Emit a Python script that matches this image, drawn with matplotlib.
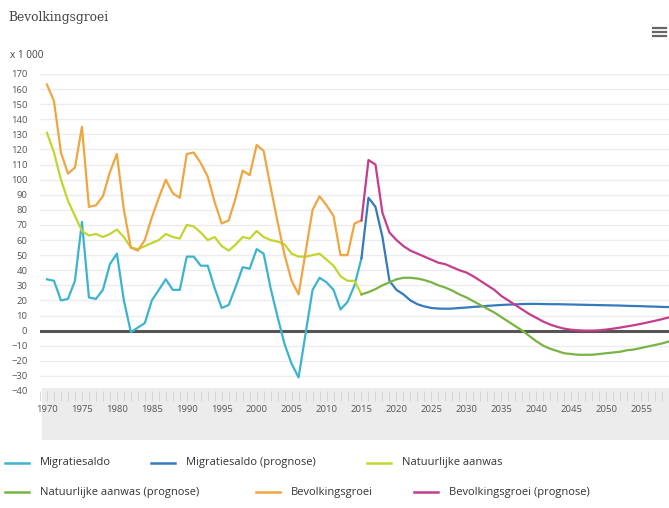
import matplotlib
matplotlib.use("Agg")
import matplotlib.pyplot as plt
from matplotlib.patches import Rectangle
from matplotlib.lines import Line2D
import numpy as np

# ---------------- data (x 1 000) ----------------
years_hist = list(range(1970, 2016))
migratiesaldo = [34, 33, 20, 21, 33, 72, 22, 21, 27, 44,
                 51, 20, -1, 2, 5, 20, 27, 34, 27, 27,
                 49, 49, 43, 43, 28, 15, 17, 29, 42, 41,
                 54, 51, 28, 9, -9, -22, -31, -2, 27, 35,
                 32, 27, 14, 19, 30, 48]
natuurlijke_aanwas = [131, 118, 100, 86, 76, 66, 63, 64, 62, 64,
                      67, 62, 55, 54, 56, 58, 60, 64, 62, 61,
                      70, 69, 65, 60, 62, 56, 53, 57, 62, 61,
                      66, 62, 60, 59, 57, 51, 49, 49, 50, 51,
                      47, 43, 36, 33, 33, 24]
bevolkingsgroei = [163, 152, 118, 104, 108, 135, 82, 83, 89, 105,
                   117, 80, 55, 53, 60, 75, 88, 100, 91, 88,
                   117, 118, 111, 102, 85, 71, 73, 88, 106, 103,
                   123, 119, 95, 72, 50, 33, 24, 52, 80, 89,
                   83, 76, 50, 50, 71, 73]

years_prog = list(range(2015, 2061))
migratiesaldo_prog = [48, 88, 82, 62, 33, 27, 24, 20, 17.5, 16,
                      15, 14.6, 14.5, 14.6, 15, 15.3, 15.7, 16, 16.4, 16.7,
                      17, 17.2, 17.4, 17.6, 17.7, 17.7, 17.6, 17.5, 17.5, 17.4,
                      17.3, 17.2, 17.1, 17.0, 16.9, 16.8, 16.7, 16.6, 16.4, 16.3,
                      16.2, 16.0, 15.9, 15.7, 15.6, 15.5]
natuurlijke_aanwas_prog = [24, 25.5, 27.5, 30, 32, 34, 35, 35, 34.5, 33.5,
                           32, 30, 28.5, 26.5, 24, 22, 19.5, 17, 14.5, 12,
                           9, 6, 3, 0, -3.5, -7, -10, -12, -13.5, -15,
                           -15.5, -16, -16, -16, -15.5, -15, -14.5, -14, -13, -12.5,
                           -11.5, -10.5, -9.5, -8.5, -7.2, -6]
bevolkingsgroei_prog = [73, 113, 110, 78, 65, 60, 56, 53, 51, 49,
                        47, 45, 44, 42, 40, 38.5, 36, 33, 30, 27,
                        23, 20, 17, 14, 11, 8.5, 6, 4, 2.5, 1.3,
                        0.6, 0.2, 0, 0, 0.2, 0.7, 1.3, 2, 2.8, 3.6,
                        4.5, 5.5, 6.5, 7.6, 8.8, 10]

series_names = ["Migratiesaldo", "Migratiesaldo (prognose)", "Natuurlijke aanwas",
                "Natuurlijke aanwas (prognose)", "Bevolkingsgroei", "Bevolkingsgroei (prognose)"]
series_colors = ["#3cb4cf", "#3579bf", "#c2d530", "#78b443", "#f0a640", "#c53d8c"]

# ---------------- figure ----------------
W, H = 669, 508
fig = plt.figure(figsize=(W / 100, H / 100), dpi=100)
fig.patch.set_facecolor("white")

def fx(px):
    return px / W

def fy(py):
    return 1 - py / H

# gray band under the x-axis
fig.patches.append(Rectangle((fx(42), fy(440)), fx(669) - fx(42), fy(388) - fy(440),
                             transform=fig.transFigure, facecolor="#ececec",
                             edgecolor="none", zorder=-10))

ax_left, ax_right, ax_top, ax_bottom = 40, 669, 74, 391
ax = fig.add_axes([fx(ax_left), fy(ax_bottom), fx(ax_right) - fx(ax_left), fy(ax_top) - fy(ax_bottom)])
ax.set_facecolor("none")
ax.set_zorder(1)

ax.set_xlim(1970 - 6 / 7.0, 1970 + (669 - 46) / 7.0)
ax.set_ylim(-40, 170)

ax.set_yticks(np.arange(-40, 171, 10))
ax.set_xticks(np.arange(1970, 2060, 5))
ax.set_xticks(np.arange(1969, 2060, 1), minor=True)
ax.grid(axis="y", color="#ececec", linewidth=1.0, zorder=0)
for s in ax.spines.values():
    s.set_visible(False)

ax.tick_params(axis="y", length=0, pad=9, labelsize=6.8, labelcolor="#555555")
ax.tick_params(axis="x", which="both", length=7, width=0.6, color="#d2d2d2",
               direction="out", pad=3, labelsize=6.8, labelcolor="#555555")
for lab in ax.get_xticklabels() + ax.get_yticklabels():
    lab.set_family("Open Sans")

ax.axhline(0, color="#555555", linewidth=2.2, zorder=2)

lw = 1.6
ax.plot(years_hist, migratiesaldo, color=series_colors[0], lw=lw, zorder=3)
ax.plot(years_prog, migratiesaldo_prog, color=series_colors[1], lw=lw, zorder=3)
ax.plot(years_hist, natuurlijke_aanwas, color=series_colors[2], lw=lw, zorder=3)
ax.plot(years_prog, natuurlijke_aanwas_prog, color=series_colors[3], lw=lw, zorder=3)
ax.plot(years_hist, bevolkingsgroei, color=series_colors[4], lw=lw, zorder=3)
ax.plot(years_prog, bevolkingsgroei_prog, color=series_colors[5], lw=lw, zorder=3)

# title, unit label, menu icon
fig.text(fx(8), fy(18), "Bevolkingsgroei", family="DejaVu Serif", fontsize=8.8,
         color="#444444", va="center", ha="left")
fig.text(fx(10), fy(55), "x 1 000", family="Open Sans", fontsize=7.2,
         color="#444444", va="center", ha="left")
for yy in (28, 32, 36):
    fig.lines.append(Line2D([fx(653), fx(666)], [fy(yy), fy(yy)], transform=fig.transFigure,
                            color="#666666", linewidth=1.6))

# legend (flowing layout)
legend_pos = [(5, 463), (151, 463), (367, 463), (5, 492), (256, 492), (414, 492)]
for (lx, ly), name, col in zip(legend_pos, series_names, series_colors):
    fig.lines.append(Line2D([fx(lx), fx(lx + 24)], [fy(ly), fy(ly)], transform=fig.transFigure,
                            color=col, linewidth=1.8))
    fig.text(fx(lx + 35), fy(ly), name, family="Open Sans", fontsize=8.0,
             color="#333333", va="center", ha="left")

fig.savefig("out.png", dpi=100)
